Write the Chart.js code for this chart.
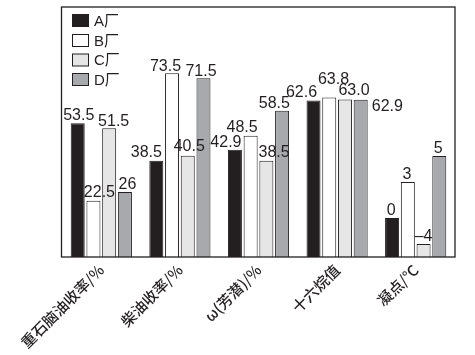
<!DOCTYPE html>
<html>
<head>
<meta charset="utf-8">
<script src="https://cdn.jsdelivr.net/npm/chart.js@4.4.0/dist/chart.umd.min.js"></script>
<style>
  html, body { margin: 0; padding: 0; background: #ffffff; }
  #wrap { width: 475px; height: 355px; }
</style>
</head>
<body>
<div id="wrap"><canvas id="c" width="475" height="355"></canvas></div>
<script>
// ---- data ----
const categories = ['重石脑油收率/%', '柴油收率/%', 'ω(芳潜)/%', '十六烷值', '凝点/℃'];
const seriesNames = ['A厂', 'B厂', 'C厂', 'D厂'];
// bar heights as drawn (plot units, 0-100)
const heightA = [53.5, 38.5, 42.9, 62.6, 15.6];
const heightB = [22.5, 73.5, 48.5, 63.8, 30];
const heightC = [51.5, 40.5, 38.5, 63.0, 5.2];
const heightD = [26, 71.5, 58.5, 62.9, 40.4];
// value labels printed above bars
const labelsA = ['53.5', '38.5', '42.9', '62.6', '0'];
const labelsB = ['22.5', '73.5', '48.5', '63.8', '3'];
const labelsC = ['51.5', '40.5', '38.5', '63.0', '–4'];
const labelsD = ['26', '71.5', '58.5', '62.9', '5'];

// ---- styling / label placement ----
const colors = ['#231f20', '#ffffff', '#e6e6e6', '#a7a9ac'];
const labelShift = [
  [[1, -3.5], [-10, -3.7], [-9, -3], [-12, -3.3], [-1, -3]],
  [[6, -3.5], [-6.5, -2.6], [-8.5, -4], [4.3, -13.3], [-1, -3]],
  [[4.5, -2.7], [1.5, -4.3], [7.7, -4], [9, -5], [0, -3]],
  [[2.5, -3], [-2.5, -2.6], [-7.7, -2.7], [26.7, 11.7], [-1, -3]]
];
const valueLabels = [labelsA, labelsB, labelsC, labelsD];
const heights = [heightA, heightB, heightC, heightD];

const decorPlugin = {
  id: 'decor',
  afterDatasetsDraw(chart) {
    const ctx = chart.ctx;
    const a = chart.chartArea;
    ctx.save();
    // frame
    ctx.strokeStyle = '#231f20';
    ctx.lineWidth = 1.3;
    ctx.strokeRect(a.left - 0.5, a.top, a.right - a.left + 0.5, a.bottom - a.top);
    // value labels
    ctx.fillStyle = '#231f20';
    ctx.font = '16px "Liberation Sans", Arial, sans-serif';
    ctx.textAlign = 'center';
    ctx.textBaseline = 'alphabetic';
    chart.data.datasets.forEach((ds, di) => {
      const meta = chart.getDatasetMeta(di);
      meta.data.forEach((bar, i) => {
        const s = labelShift[di][i];
        ctx.fillText(valueLabels[di][i], bar.x + s[0], bar.y + s[1]);
      });
    });
    // legend
    ctx.font = '15px "Liberation Sans", "Noto Sans CJK SC", sans-serif';
    ctx.textAlign = 'left';
    ctx.textBaseline = 'middle';
    const rowY = [20.5, 40.5, 60, 79.5];
    seriesNames.forEach((name, k) => {
      const y = rowY[k];
      ctx.fillStyle = colors[k];
      ctx.fillRect(72.5, y - 6, 16, 12);
      ctx.lineWidth = 1;
      ctx.strokeStyle = '#231f20';
      ctx.strokeRect(72.5, y - 6, 16, 12);
      ctx.fillStyle = '#231f20';
      ctx.fillText(name, 94, y + 1);
    });
    ctx.restore();
  }
};

new Chart(document.getElementById('c'), {
  type: 'bar',
  data: {
    labels: categories,
    datasets: seriesNames.map((n, k) => ({
      label: n,
      data: heights[k],
      backgroundColor: colors[k],
      borderColor: '#231f20',
      borderWidth: 1,
      categoryPercentage: 0.8,
      barPercentage: 0.89
    }))
  },
  options: {
    responsive: false,
    animation: false,
    devicePixelRatio: 1,
    layout: { padding: { left: 62, right: 20, top: 7, bottom: 0 } },
    plugins: { legend: { display: false }, tooltip: { enabled: false } },
    scales: {
      x: {
        grid: { display: false, drawTicks: false },
        border: { display: false },
        ticks: {
          autoSkip: false,
          minRotation: 45,
          maxRotation: 45,
          padding: 4,
          color: '#231f20',
          font: { size: 15, weight: '500', family: '"Noto Sans CJK SC", sans-serif' }
        },
        afterFit(scale) { scale.height = 98; }
      },
      y: { display: false, min: 0, max: 100 }
    }
  },
  plugins: [decorPlugin]
});
</script>
</body>
</html>
